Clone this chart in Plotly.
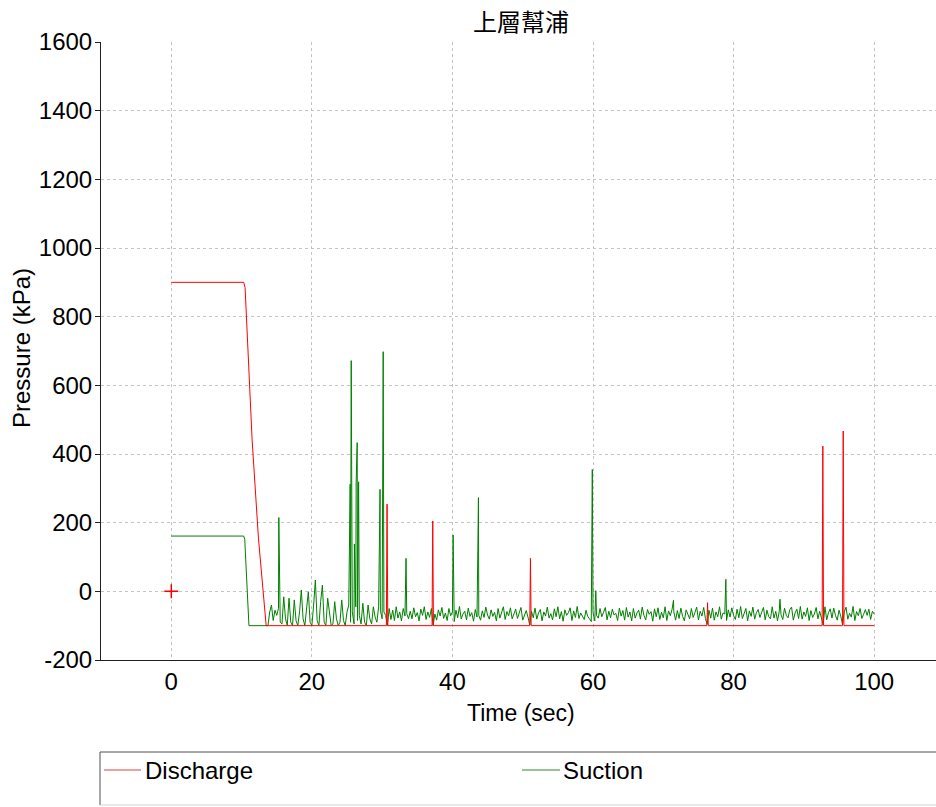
import numpy as np
import plotly.graph_objects as go

# ---------------- data ----------------
chart_title = "上層幫浦"
x_title = "Time (sec)"
y_title = "Pressure (kPa)"
x_tick_vals = [0, 20, 40, 60, 80, 100]
y_tick_vals = [-200, 0, 200, 400, 600, 800, 1000, 1200, 1400, 1600]
y_tick_text = ["-200", "0", "200", "400", "600", "800", "1000", "1200", "1400", "1600"]
series_names = ["Discharge", "Suction"]

# Discharge pressure (kPa) at read-off times (sec)
discharge_t = [0, 10.3, 10.5, 10.8, 11.5, 12.4, 13.5,
               30.6, 30.7, 30.75, 30.8,
               37.1, 37.2, 37.25, 37.3,
               51.0, 51.1, 51.15, 51.2,
               76.2, 76.3, 76.4,
               92.6, 92.7, 92.75, 92.8,
               95.5, 95.6, 95.65, 95.7,
               100.0]
discharge_v = [900, 900, 885, 760, 441, 155, -100,
               -100, 254, 77, -100,
               -100, 205, 53, -100,
               -100, 96, 0, -100,
               -100, -33, -100,
               -100, 423, 161, -100,
               -100, 467, 181, -100,
               -100]

# isolated discharge sample shown as a cross
discharge_mark_t = [0]
discharge_mark_v = [0]

# Suction: start-up segment
suction_start_t = [0, 10.3, 10.45, 11.05, 13.75]
suction_start_v = [161, 161, 152, -100, -100]

# Suction: sampled every 0.25 s from 14.0 s to 100.0 s
suction_t0 = 14.0
suction_dt = 0.25
suction_v = [
    # 14.0 - 18.75
    -60, -40, -85, -55, -70, -50, -90, -95, -16, -80, -100, -20, -90, -100, -25, -85, -100, -60, 4, -80,
    # 19.0 - 23.75
    -100, -45, -1, -90, -100, -40, 33, -85, -100, -30, 18, -90, -100, -20, -70, -100, -95, -30, -80, -100,
    # 24.0 - 28.75
    -90, -25, -85, -100, -60, -40, -90, -60, -95, -45, -85, -70, -95, -35, -90, -100, -40, -80, -95, -45,
    # 29.0 - 33.75
    -75, -90, -45, -55, -80, -60, -70, -100, -50, -82, -55, -85, -45, -78, -60, -86, -50, -72, -65, -80,
    # 34.0 - 38.75
    -58, -80, -48, -74, -62, -86, -52, -70, -45, -82, -60, -76, -50, -100, -66, -84, -54, -72, -47, -79,
    # 39.0 - 43.75
    -63, -85, -50, -71, -60, -88, -55, -77, -44, -80, -66, -58, -83, -49, -73, -62, -87, -53, -75, -70,
    # 44.0 - 48.75
    -84, -57, -76, -46, -69, -81, -54, -73, -61, -86, -50, -78, -64, -45, -82, -59, -71, -48, -80, -66,
    # 49.0 - 53.75
    -52, -79, -61, -47, -84, -68, -56, -75, -98, -58, -77, -49, -81, -63, -53, -86, -60, -72, -46, -78,
    # 54.0 - 58.75
    -65, -83, -51, -74, -45, -80, -59, -87, -54, -70, -62, -48, -85, -57, -76, -44, -79, -63, -71, -82,
    # 59.0 - 63.75
    -55, -73, -80, -88, -62, -86, -70, -78, -50, -74, -61, -47, -83, -58, -77, -52, -69, -64, -85, -49,
    # 64.0 - 68.75
    -72, -56, -84, -47, -75, -60, -86, -50, -78, -63, -55, -81, -46, -70, -83, -53, -67, -59, -87, -51,
    # 69.0 - 73.75
    -74, -48, -82, -61, -77, -45, -85, -57, -71, -52, -60, -84, -56, -79, -49, -73, -86, -54, -66, -80,
    # 74.0 - 78.75
    -50, -76, -62, -46, -83, -58, -72, -47, -80, -96, -55, -78, -49, -84, -60, -74, -45, -81, -63, -66,
    # 79.0 - 83.75
    -85, -54, -75, -48, -71, -82, -52, -77, -44, -79, -64, -50, -86, -57, -73, -46, -81, -62, -53, -76,
    # 84.0 - 88.75
    -61, -47, -83, -55, -74, -80, -45, -78, -58, -86, -58, -68, -82, -49, -70, -77, -53, -46, -84, -63,
    # 89.0 - 93.75
    -52, -79, -44, -81, -60, -73, -48, -85, -56, -76, -66, -47, -80, -58, -75, -98, -45, -83, -62, -51,
    # 94.0 - 98.75
    -78, -49, -70, -84, -55, -72, -97, -60, -46, -81, -64, -75, -44, -85, -59, -71, -50, -79, -67, -53,
    # 99.0 - 100.0
    -70, -52, -82, -58, -66,
]

# Suction spikes (sec, kPa) between the regular samples
suction_spike_t = [15.3, 25.45, 25.6, 26.05, 26.3, 26.45, 26.65, 29.7, 30.15, 33.4,
                   40.1, 43.7, 59.9, 60.4, 71.45, 78.9, 86.6]
suction_spike_v = [215, 312, 672, 138, 316, 433, 319, 297, 698, 96,
                   164, 273, 355, 2, -26, 35, -23]

# ---------------- figure ----------------
W, H = 936, 807
L, T, R, B = 101, 42, 0, 147
pw, ph = W - L - R, H - T - B

def px_x(px):
    return (px - L) / pw

def px_y(py):
    return (H - B - py) / ph

pts = list(zip(suction_start_t, suction_start_v))
pts += [(suction_t0 + suction_dt * i, v) for i, v in enumerate(suction_v)]
pts += list(zip(suction_spike_t, suction_spike_v))
pts.sort(key=lambda p: p[0])
suction_t = [p[0] for p in pts]
suction_all = [p[1] for p in pts]

RED = "#ff0000"
GREEN = "#008000"
FONT = "Liberation Sans, Arial, sans-serif"

fig = go.Figure()
fig.add_trace(go.Scatter(x=suction_t, y=suction_all, mode="lines", name=series_names[1],
                         line=dict(color=GREEN, width=1), showlegend=False))
fig.add_trace(go.Scatter(x=discharge_t, y=discharge_v, mode="lines", name=series_names[0],
                         line=dict(color=RED, width=1), showlegend=False))
fig.add_trace(go.Scatter(x=discharge_mark_t, y=discharge_mark_v, mode="markers",
                         marker=dict(symbol="cross-thin", size=10, color=RED,
                                     line=dict(color=RED, width=1.5)),
                         showlegend=False, hoverinfo="skip"))

grid = dict(showgrid=True, gridcolor="#c4c4c4", gridwidth=1, griddash="3px,3px",
            zeroline=False, showline=True, linecolor="#202020", linewidth=1)

fig.update_xaxes(range=[-10, 108.8], tickvals=x_tick_vals, ticks="", ticklabelstandoff=0,
                 tickfont=dict(family=FONT, size=24, color="black"), **grid)
fig.update_yaxes(range=[-200, 1600], tickvals=y_tick_vals, ticktext=y_tick_text,
                 ticks="outside", ticklen=5,
                 tickcolor="#202020", ticklabelstandoff=-2,
                 tickfont=dict(family=FONT, size=24, color="black"), **grid)

annotations = [
    dict(text=chart_title, x=px_x(521), y=px_y(20), xref="paper", yref="paper",
         showarrow=False, xanchor="center", yanchor="middle",
         font=dict(family="Noto Sans CJK TC", size=24, color="black")),
    dict(text=x_title, x=px_x(520.5), y=px_y(713), xref="paper", yref="paper",
         showarrow=False, xanchor="center", yanchor="middle",
         font=dict(family=FONT, size=23, color="black")),
    dict(text=y_title, x=px_x(21), y=px_y(348), xref="paper", yref="paper",
         showarrow=False, xanchor="center", yanchor="middle", textangle=-90,
         font=dict(family=FONT, size=24, color="black")),
    dict(text=series_names[0], x=px_x(143), y=px_y(770), xref="paper", yref="paper",
         showarrow=False, xanchor="left", yanchor="middle",
         font=dict(family=FONT, size=24, color="black")),
    dict(text=series_names[1], x=px_x(561), y=px_y(770), xref="paper", yref="paper",
         showarrow=False, xanchor="left", yanchor="middle",
         font=dict(family=FONT, size=24, color="black")),
]

shapes = [
    # legend frame
    dict(type="line", xref="paper", yref="paper", x0=px_x(100), x1=px_x(940),
         y0=px_y(752), y1=px_y(752), line=dict(color="#505050", width=1)),
    dict(type="line", xref="paper", yref="paper", x0=px_x(100), x1=px_x(100),
         y0=px_y(752), y1=px_y(805), line=dict(color="#505050", width=1)),
    dict(type="line", xref="paper", yref="paper", x0=px_x(100), x1=px_x(940),
         y0=px_y(805), y1=px_y(805), line=dict(color="#d0d0d0", width=1)),
    # legend symbols
    dict(type="line", xref="paper", yref="paper", x0=px_x(104), x1=px_x(141),
         y0=px_y(770), y1=px_y(770), line=dict(color="#e04040", width=1)),
    dict(type="line", xref="paper", yref="paper", x0=px_x(522), x1=px_x(560),
         y0=px_y(770), y1=px_y(770), line=dict(color="#2a8a2a", width=1)),
]

fig.update_layout(width=W, height=H, margin=dict(l=L, r=R, t=T, b=B, pad=0),
                  paper_bgcolor="white", plot_bgcolor="white",
                  annotations=annotations, shapes=shapes, showlegend=False)

fig.write_html("out.html")
